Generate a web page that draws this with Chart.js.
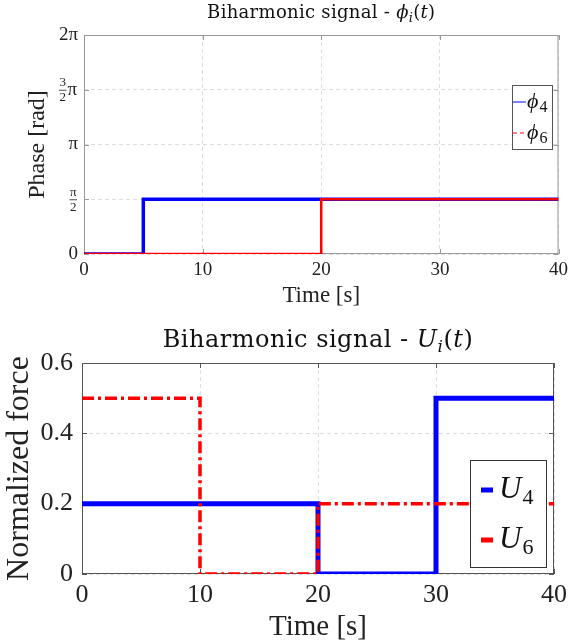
<!DOCTYPE html>
<html>
<head>
<meta charset="utf-8">
<script src="https://cdn.jsdelivr.net/npm/chart.js@4.4.1/dist/chart.umd.min.js"></script>
<style>
  html, body { margin: 0; padding: 0; background: #fff; }
  canvas { display: block; }
</style>
</head>
<body>
<canvas id="phase" width="573" height="310"></canvas>
<canvas id="force" width="573" height="334"></canvas>
<script>
const PI = Math.PI;

// phase signals: breakpoints [s] and values [rad]
const phi4Time = [0, 5, 40];
const phi4Val = [0, PI / 2, PI / 2];
const phi6Time = [0, 20, 40];
const phi6Val = [0, PI / 2, PI / 2];
const phaseTickVals = [0, PI / 2, PI, 3 * PI / 2, 2 * PI];
const phaseTickText = ['0', 'π/2', 'π', '3/2π', '2π'];

// normalized force signals
const u4Time = [0, 20, 30, 40];
const u4Val = [0.2, 0, 0.5, 0.5];
const u6Time = [0, 10, 20, 40];
const u6Val = [0.5, 0, 0.2, 0.2];
const forceTicks = [0, 0.2, 0.4, 0.6];

const timeTicks = [0, 10, 20, 30, 40];

const SERIF = "'Liberation Serif', 'DejaVu Serif', serif";
const WIDE = "'DejaVu Serif', serif";

function pts(t, v) {
  return t.map((x, i) => ({ x: x, y: v[i] }));
}

// label like "ϕ4": italic symbol + upright subscript
function drawSym(ctx, label, x, y, size) {
  const base = label.slice(0, -1), sub = label.slice(-1);
  ctx.textBaseline = 'middle';
  ctx.textAlign = 'left';
  ctx.fillStyle = '#111';
  ctx.font = 'italic ' + size + 'px ' + SERIF;
  ctx.fillText(base, x, y);
  const w = ctx.measureText(base).width;
  ctx.font = Math.round(size * 0.72) + 'px ' + SERIF;
  ctx.fillText(sub, x + w + 1, y + size * 0.28);
}

const frame = {
  id: 'frame',
  beforeDatasetsDraw(chart, args, o) {
    const { ctx, chartArea: a, scales } = chart;
    ctx.save();
    ctx.strokeStyle = o.color;
    ctx.lineWidth = 1;
    ctx.strokeRect(a.left + 0.5, a.top + 0.5, a.width - 1, a.height - 1);
    ctx.beginPath();
    scales.x.ticks.forEach(t => {
      const px = Math.round(scales.x.getPixelForValue(t.value)) + 0.5;
      ctx.moveTo(px, a.bottom); ctx.lineTo(px, a.bottom - o.len);
      ctx.moveTo(px, a.top); ctx.lineTo(px, a.top + o.len);
    });
    scales.y.ticks.forEach(t => {
      const py = Math.round(scales.y.getPixelForValue(t.value)) + 0.5;
      ctx.moveTo(a.left, py); ctx.lineTo(a.left + o.len, py);
      ctx.moveTo(a.right, py); ctx.lineTo(a.right - o.len, py);
    });
    ctx.stroke();
    ctx.restore();
  }
};

const richTitle = {
  id: 'richTitle',
  afterDraw(chart, args, o) {
    const { ctx, chartArea: a } = chart;
    ctx.save();
    ctx.textBaseline = 'alphabetic';
    ctx.fillStyle = '#111';
    if ('letterSpacing' in ctx) ctx.letterSpacing = o.spacing + 'px';
    const fontOf = s => (s.indexOf('i') === 0 ? 'italic ' : '') +
      (s.indexOf('s') >= 0 ? Math.round(o.size * 0.7) : o.size) + 'px ' + WIDE;
    let total = 0;
    o.parts.forEach(p => { ctx.font = fontOf(p[1]); total += ctx.measureText(p[0]).width; });
    let x = (a.left + a.right) / 2 - total / 2;
    o.parts.forEach(p => {
      ctx.font = fontOf(p[1]);
      const dy = p[1].indexOf('s') >= 0 ? o.size * 0.22 : 0;
      ctx.textAlign = 'left';
      ctx.fillText(p[0], x, o.y + dy);
      x += ctx.measureText(p[0]).width;
    });
    ctx.restore();
  }
};

const boxLegend = {
  id: 'boxLegend',
  afterDraw(chart, args, o) {
    const ctx = chart.ctx;
    ctx.save();
    ctx.fillStyle = '#fff';
    ctx.fillRect(o.x, o.y, o.w, o.h);
    ctx.strokeStyle = o.border || '#333';
    ctx.lineWidth = 1;
    ctx.strokeRect(o.x + 0.5, o.y + 0.5, o.w, o.h);
    chart.data.datasets.forEach((ds, i) => {
      const cy = o.y + o.rows[i];
      ctx.strokeStyle = ds.borderColor;
      ctx.lineWidth = o.lineWidth || ds.borderWidth;
      ctx.setLineDash(ds.legendDash || []);
      ctx.beginPath();
      ctx.moveTo(o.x + o.s0, cy);
      ctx.lineTo(o.x + o.s1, cy);
      ctx.stroke();
      ctx.setLineDash([]);
      drawSym(ctx, ds.label, o.x + o.tx, cy, o.size);
    });
    ctx.restore();
  }
};

// stacked fractions for the phase axis labels
const fracTicks = {
  id: 'fracTicks',
  afterDraw(chart, args, o) {
    const { ctx, scales } = chart;
    const y = scales.y;
    ctx.save();
    ctx.fillStyle = '#222';
    ctx.strokeStyle = '#222';
    ctx.textBaseline = 'middle';
    y.ticks.forEach(t => {
      const txt = phaseTickText[phaseTickVals.indexOf(t.value)] || '';
      const m = txt.match(/^(.+)\/(\d)(.*)$/);
      if (!m) return;
      const py = y.getPixelForValue(t.value);
      let right = o.right;
      if (m[3]) {
        ctx.font = o.size + 'px ' + SERIF;
        ctx.textAlign = 'right';
        ctx.fillText(m[3], right, py);
        right -= ctx.measureText(m[3]).width + 1;
      }
      ctx.font = o.small + 'px ' + SERIF;
      const w = Math.max(ctx.measureText(m[1]).width, ctx.measureText(m[2]).width) + 1;
      const cx = right - w / 2;
      ctx.textAlign = 'center';
      ctx.fillText(m[1], cx, py - o.small * 0.55);
      ctx.fillText(m[2], cx, py + o.small * 0.62);
      ctx.lineWidth = 0.8;
      ctx.beginPath();
      ctx.moveTo(right - w, py + 0.5);
      ctx.lineTo(right, py + 0.5);
      ctx.stroke();
    });
    ctx.restore();
  }
};

function makeOptions(cfg) {
  return {
    responsive: false,
    animation: false,
    layout: { padding: { top: cfg.top, right: 13, left: 0, bottom: 0 } },
    plugins: {
      legend: { display: false },
      title: { display: false },
      tooltip: { enabled: false },
      frame: { color: cfg.frameColor, len: 5 },
      richTitle: cfg.title,
      boxLegend: cfg.legend,
      fracTicks: cfg.frac || false
    },
    scales: {
      x: {
        type: 'linear',
        min: 0, max: 40,
        afterBuildTicks: s => { s.ticks = timeTicks.map(v => ({ value: v })); },
        afterFit: s => { s.height = cfg.xH; },
        grid: { color: '#dedede', drawTicks: false },
        border: { display: false, dash: [4, 3] },
        ticks: { color: '#222', padding: cfg.xPad, font: { family: SERIF, size: cfg.tick }, maxRotation: 0 },
        title: { display: true, text: 'Time [s]', color: '#222',
          font: { family: SERIF, size: cfg.xAxis, lineHeight: 1 }, padding: { top: 0, bottom: cfg.xTitlePad } }
      },
      y: {
        type: 'linear',
        min: cfg.yMin, max: cfg.yMax,
        afterBuildTicks: s => { s.ticks = cfg.yTicks.map(v => ({ value: v })); },
        afterFit: s => { s.width = cfg.yW; },
        grid: { color: '#dedede', drawTicks: false },
        border: { display: false, dash: [4, 3] },
        ticks: { color: '#222', padding: cfg.yPad, font: { family: SERIF, size: cfg.tick }, callback: cfg.yLabel },
        title: { display: true, text: cfg.yTitle, color: '#222',
          font: { family: SERIF, size: cfg.yAxis, lineHeight: 1 }, padding: { top: cfg.yTitlePad, bottom: 0 } }
      }
    }
  };
}

new Chart(document.getElementById('phase'), {
  type: 'line',
  data: {
    datasets: [
      { label: 'ϕ4', data: pts(phi4Time, phi4Val), borderColor: '#0000ff', borderWidth: 3.5,
        stepped: true, pointRadius: 0, order: 1 },
      { label: 'ϕ6', data: pts(phi6Time, phi6Val), borderColor: '#ff0000', borderWidth: 2.5,
        stepped: true, pointRadius: 0, order: 0, legendDash: [4, 3] }
    ]
  },
  options: makeOptions({
    top: 35, xH: 56, yW: 84, tick: 19, xAxis: 23, yAxis: 24, xPad: 5, yPad: 6,
    xTitlePad: 3, yTitlePad: 26, frameColor: '#999',
    yMin: 0, yMax: 2 * PI, yTicks: phaseTickVals, yTitle: 'Phase [rad]',
    yLabel: v => {
      const txt = phaseTickText[phaseTickVals.indexOf(v)] || '';
      return txt.indexOf('/') >= 0 ? '' : txt;
    },
    frac: { right: 77, size: 19, small: 13 },
    title: { y: 18, size: 18, spacing: 0.3,
      parts: [['Biharmonic signal - ', 'n'], ['ϕ', 'i'], ['i', 'is'], ['(', 'n'], ['t', 'i'], [')', 'n']] },
    legend: { x: 512, y: 85, w: 40, h: 64, rows: [17, 48], s0: 1, s1: 14, tx: 15, lineWidth: 1, size: 22, border: '#555' }
  }),
  plugins: [frame, richTitle, boxLegend, fracTicks]
});

new Chart(document.getElementById('force'), {
  type: 'line',
  data: {
    datasets: [
      { label: 'U4', data: pts(u4Time, u4Val), borderColor: '#0000ff', borderWidth: 5,
        stepped: true, pointRadius: 0, order: 1 },
      { label: 'U6', data: pts(u6Time, u6Val), borderColor: '#ff0000', borderWidth: 3.5,
        borderDash: [12, 4, 3, 4], stepped: true, pointRadius: 0, order: 0 }
    ]
  },
  options: makeOptions({
    top: 53, xH: 70, yW: 82, tick: 26, xAxis: 29, yAxis: 32, xPad: 6, yPad: 9,
    xTitlePad: 2.5, yTitlePad: 4, frameColor: '#555',
    yMin: 0, yMax: 0.6, yTicks: forceTicks, yTitle: 'Normalized force',
    yLabel: v => (v === 0 ? '0' : v.toFixed(1)),
    title: { y: 37, size: 24, spacing: 0.5,
      parts: [['Biharmonic signal - ', 'n'], ['U', 'i'], ['i', 'is'], ['(', 'n'], ['t', 'i'], [')', 'n']] },
    legend: { x: 470, y: 150, w: 76, h: 107, rows: [30, 80], s0: 11, s1: 23, tx: 29, lineWidth: 5, size: 31, border: '#333' }
  }),
  plugins: [frame, richTitle, boxLegend]
});
</script>
</body>
</html>
